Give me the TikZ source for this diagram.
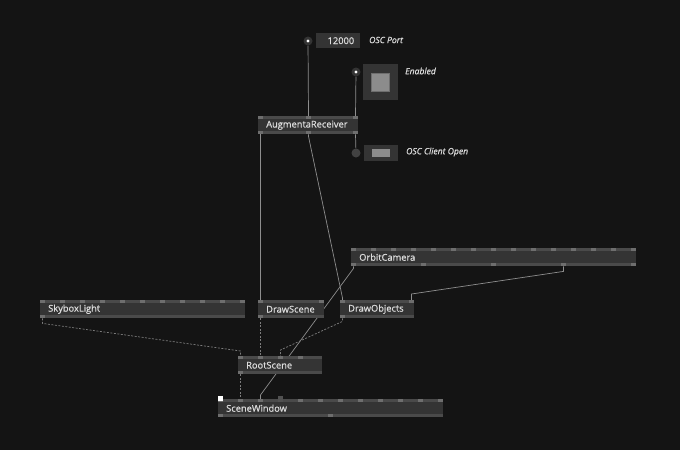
\documentclass[tikz,border=0pt]{standalone}
\usepackage{fontspec}
\setmainfont{Open Sans}
\newfontfamily\vfont{Open Sans}[FakeBold=0.8]
\usetikzlibrary{calc}
\definecolor{vbg}{HTML}{141414}
\definecolor{vbody}{HTML}{343434}
\definecolor{vstrip}{HTML}{4A4A4A}
\definecolor{vpin}{HTML}{6E6E6E}
\definecolor{vtext}{HTML}{DCDCDC}
\definecolor{vwire}{HTML}{8E8E8E}
\definecolor{vdash}{HTML}{7C7C7C}
\definecolor{vvalue}{HTML}{8C8C8C}
\pgfdeclarelayer{back}
\pgfdeclarelayer{wires}
\pgfsetlayers{back,wires,main}
\tikzset{
  vnode/.style={fill=vbody, anchor=north west, minimum height=18, inner xsep=8, inner ysep=0,
    text=vtext, font=\vfont\fontsize{9.3}{10}\selectfont, text width=#1, align=left},
  iobox/.style={fill=vbody, anchor=north west, inner sep=0},
  iopin/.style={circle, fill=vpin!140, inner sep=0, minimum size=9,
    path picture={\fill[white] (path picture bounding box.center) circle (1.7);}},
  iolabel/.style={anchor=west, inner sep=0, text=vtext, font=\vfont\fontsize{8.6}{10}\selectfont\itshape},
  wire/.style={draw=vwire, line width=0.7pt},
  layer/.style={draw=vdash, line width=0.7pt, dash pattern=on 2pt off 1.5pt},
  more/.style={inner sep=0, text=vstrip!130, font=\fontsize{9}{10}\selectfont}
}
% pin strips of a node: name, top pin offsets, bottom pin offsets
\newcommand{\vpins}[3]{%
  \fill[vstrip] (#1.north west) rectangle ($(#1.north east)+(0,3)$);
  \fill[vstrip] ($(#1.south west)+(0,-3)$) rectangle (#1.south east);
  \foreach \p [count=\i] in {#2} {
    \fill[vpin] ($(#1.north west)+(\p,0)$) rectangle ++(5,3);
    \coordinate (#1-in\i) at ($(#1.north west)+(\p+2.5,0)$);
  }
  \foreach \p [count=\i] in {#3} {
    \fill[vpin] ($(#1.south west)+(\p,-3)$) rectangle ++(5,3);
    \coordinate (#1-out\i) at ($(#1.south west)+(\p+2.5,0)$);
  }}

\begin{document}
\begin{tikzpicture}[x=1pt, y=-1pt]
  % Background
  \begin{pgfonlayer}{back}
    \fill[vbg] (0,0) rectangle (680,450);
  \end{pgfonlayer}
  \useasboundingbox (0,0) rectangle (680,450);

  % IO boxes
  \node[iobox, minimum width=44, minimum height=15, text width=32pt, inner xsep=6, align=right,
    text=vtext, font=\vfont\fontsize{9.3}{10}\selectfont] (port) at (316,33) {12000};
  \node[iopin] (port-pin) at (308,41) {};
  \node[iolabel] (port-label) at (369,40) {OSC Port};

  \node[iobox, minimum width=35, minimum height=36] (enabled) at (363,64) {};
  \node[fill=vvalue, draw=vpin, line width=0.6pt, minimum size=18, inner sep=0] (enabled-value) at (enabled.center) {};
  \node[iopin] (enabled-pin) at (356,72) {};
  \node[iolabel] (enabled-label) at (405,71) {Enabled};

  \node[iobox, minimum width=34, minimum height=16] (client) at (364,145) {};
  \node[fill=vvalue, minimum width=18, minimum height=8, inner sep=0] (client-value) at (client.center) {};
  \node[circle, fill=vpin!130, inner sep=0, minimum size=9] (client-pin) at (356,153) {};
  \node[iolabel] (client-label) at (406,152) {OSC Client Open};

  % Nodes
  \node[vnode=84pt] (ar) at (258,116) {AugmentaReceiver};
  \vpins{ar}{0,48,95}{0,48,95}
  \node[vnode=269pt] (orbit) at (351,248) {OrbitCamera};
  \vpins{orbit}{0,20,...,280}{0,70,...,280}
  \node[vnode=189pt] (sky) at (40,300) {SkyboxLight};
  \vpins{sky}{0,20,...,200}{0}
  \node[vnode=50pt] (dscene) at (258,300) {DrawScene};
  \vpins{dscene}{0,61}{0}
  \node[more, anchor=west] (dscene-more) at (326,309) {›};
  \node[vnode=58pt] (dobj) at (340,300) {DrawObjects};
  \vpins{dobj}{0,69}{0}
  \node[more, anchor=west] (dobj-more) at (416,309) {›};
  \node[vnode=68pt] (root) at (238,356) {RootScene};
  \vpins{root}{0,20,...,79}{0}
  \node[vnode=209pt] (win) at (218,399) {SceneWindow};
  \vpins{win}{0,20,...,220}{0,110}
  \fill[white] (218,396) rectangle ++(5,5);
  \fill[vpin!120] (278,396) rectangle ++(5,6);

  \begin{pgfonlayer}{wires}
  % Wires
  \draw[wire] (port-pin) -- (ar-in2);
  \draw[wire] (enabled-pin) -- (ar-in3);
  \draw[wire] (ar-out3) -- (client-pin);
  \draw[wire] (ar-out1) -- (dscene-in1);
  \draw[wire] (ar-out2) -- ++(0,2) -- ($(dobj-in1)+(0,-2)$) -- (dobj-in1);
  \draw[wire] (orbit-out1) -- ++(0,2) -- ($(win-in3)+(0,-4)$) -- (win-in3);
  \draw[wire] (orbit-out4) -- ++(0,5) -- ($(dobj-in2)+(0,-6)$) -- (dobj-in2);

  % Layer wires
  \draw[layer] (sky-out1) -- ++(0,5) -- ($(root-in1)+(0,-5)$) -- (root-in1);
  \draw[layer] (dscene-out1) -- (root-in2);
  \draw[layer] (dobj-out1) -- ++(0,3) -- ($(root-in3)+(0,-6)$) -- (root-in3);
  \draw[layer] (root-out1) -- (win-in2);
  \end{pgfonlayer}
\end{tikzpicture}
\end{document}
